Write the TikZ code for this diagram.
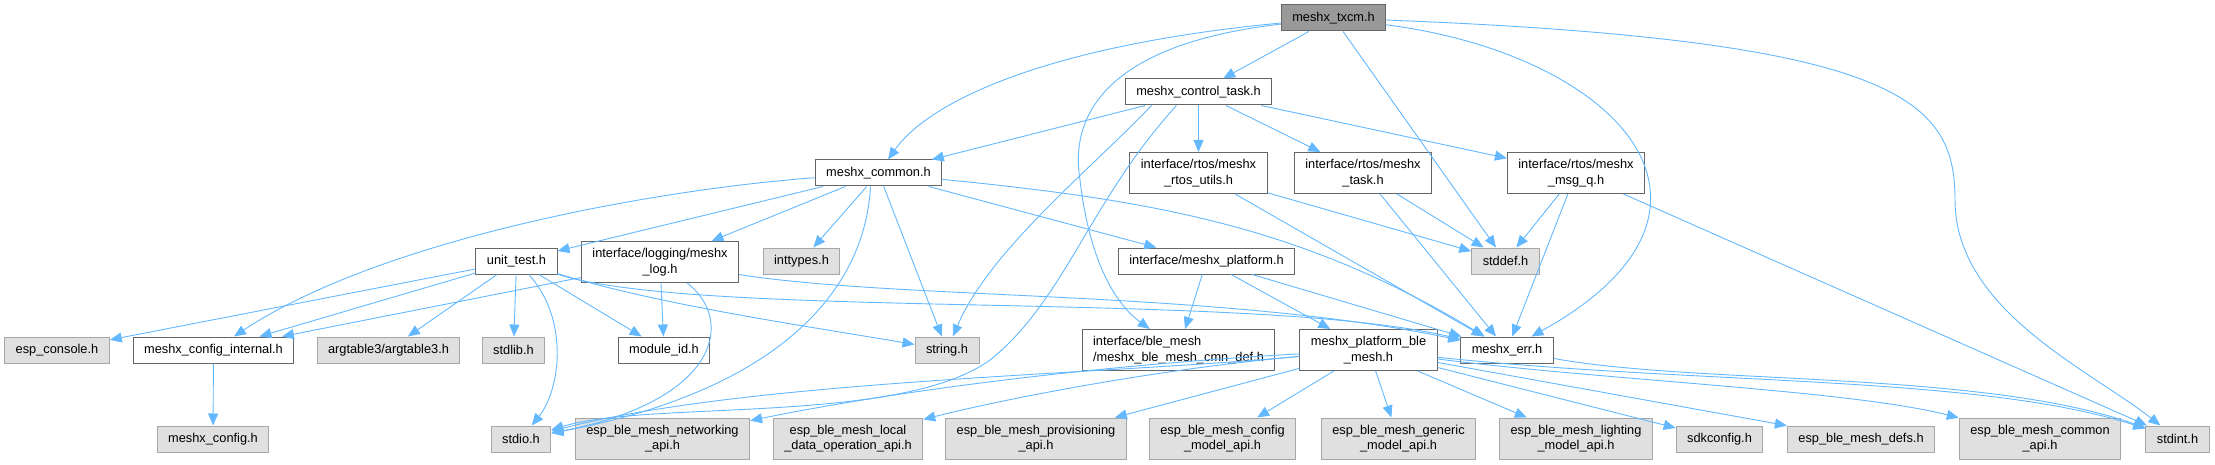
\documentclass[tikz,border=0pt]{standalone}
\usepackage{fontspec}
\setmainfont{Liberation Sans}
\usetikzlibrary{arrows.meta}
\definecolor{edgeblue}{HTML}{63B8FF}
\definecolor{rootgray}{HTML}{999999}
\definecolor{sysgray}{HTML}{E0E0E0}

\begin{document}
\begin{tikzpicture}[
    x=1pt, y=-1pt,
    file/.style={draw=black!60, fill=white, line width=1pt, align=center, inner xsep=11pt, inner ysep=4pt, minimum height=26pt, font=\fontsize{12.8}{15.5}\selectfont},
    sysfile/.style={file, draw=black!35, fill=sysgray},
    rootfile/.style={file, fill=rootgray},
    tall/.style={minimum height=41pt},
    dep/.style={-{Triangle[length=12pt,width=10pt]}, draw=edgeblue, line width=0.9pt}
]
\useasboundingbox (0,0) rectangle (2215,465);

% Nodes
\node[rootfile] (txcm) at (1333.5,18) {meshx\_txcm.h};
\node[file] (ctask) at (1198.5,92) {meshx\_control\_task.h};
\node[file] (common) at (878.5,173) {meshx\_common.h};
\node[file, tall] (rtutils) at (1198.5,173) {interface/rtos/meshx\\\_rtos\_utils.h};
\node[file, tall] (rttask) at (1363,173) {interface/rtos/meshx\\\_task.h};
\node[file, tall] (msgq) at (1576,173) {interface/rtos/meshx\\\_msg\_q.h};
\node[file] (unittest) at (516.5,261) {unit\_test.h};
\node[file, tall] (log) at (660,262) {interface/logging/meshx\\\_log.h};
\node[sysfile] (inttypes) at (801.5,261) {inttypes.h};
\node[file] (platform) at (1206.5,261) {interface/meshx\_platform.h};
\node[sysfile] (stddef) at (1505.5,261) {stddef.h};
\node[sysfile] (console) at (57,350) {esp\_console.h};
\node[file] (cfgint) at (213.5,350) {meshx\_config\_internal.h};
\node[sysfile] (argtable) at (388.5,350) {argtable3/argtable3.h};
\node[sysfile] (stdlib) at (513.5,350) {stdlib.h};
\node[file] (moduleid) at (664,350) {module\_id.h};
\node[sysfile] (string) at (947,350) {string.h};
\node[file, tall, align=left] (cmndef) at (1178.5,350) {interface/ble\_mesh\\/meshx\_ble\_mesh\_cmn\_def.h};
\node[file, tall] (blemesh) at (1368.5,350) {meshx\_platform\_ble\\\_mesh.h};
\node[file] (err) at (1507,350) {meshx\_err.h};
\node[sysfile] (config) at (213,439) {meshx\_config.h};
\node[sysfile] (stdio) at (521,439) {stdio.h};
\node[sysfile, tall] (netapi) at (662.5,438.5) {esp\_ble\_mesh\_networking\\\_api.h};
\node[sysfile, tall] (localapi) at (848,438.5) {esp\_ble\_mesh\_local\\\_data\_operation\_api.h};
\node[sysfile, tall] (provapi) at (1036,438.5) {esp\_ble\_mesh\_provisioning\\\_api.h};
\node[sysfile, tall] (cfgapi) at (1222.5,438.5) {esp\_ble\_mesh\_config\\\_model\_api.h};
\node[sysfile, tall] (genapi) at (1398.5,438.5) {esp\_ble\_mesh\_generic\\\_model\_api.h};
\node[sysfile, tall] (lightapi) at (1576,438.5) {esp\_ble\_mesh\_lighting\\\_model\_api.h};
\node[sysfile] (sdkconfig) at (1719.5,439) {sdkconfig.h};
\node[sysfile] (defs) at (1861,439) {esp\_ble\_mesh\_defs.h};
\node[sysfile, tall] (commonapi) at (2040,438.5) {esp\_ble\_mesh\_common\\\_api.h};
\node[sysfile] (stdint) at (2177.5,439) {stdint.h};

% Arrows
\draw[dep] (txcm) .. controls (1050,45) and (930,100) .. (common);
\draw[dep] (txcm) -- (ctask);
\draw[dep] (txcm) .. controls (1100,45) and (1070,120) .. (1080,180) .. controls (1088,250) and (1110,300) .. (cmndef);
\draw[dep] (txcm) -- (stddef);
\draw[dep] (txcm) .. controls (1620,55) and (1760,210) .. (err);
\draw[dep] (txcm) .. controls (1900,40) and (1955,100) .. (1955,200) .. controls (1955,310) and (2090,370) .. (stdint);

\draw[dep] (ctask) -- (common);
\draw[dep] (ctask) -- (rtutils);
\draw[dep] (ctask) -- (rttask);
\draw[dep] (ctask) -- (msgq);
\draw[dep] ([xshift=-47pt]ctask.south) .. controls (1090,170) and (990,250) .. (string);
\draw[dep] ([xshift=-22pt]ctask.south) .. controls (1090,200) and (1065,300) .. (990,360) .. controls (900,425) and (650,400) .. (stdio);

\draw[dep] (common) .. controls (650,190) and (380,240) .. (cfgint);
\draw[dep] (common) -- (unittest);
\draw[dep] (common) -- (log);
\draw[dep] (common) -- (inttypes);
\draw[dep] ([xshift=-8pt]common.south) .. controls (865,290) and (780,390) .. (stdio);
\draw[dep] (common) -- (string);
\draw[dep] (common) -- (platform);
\draw[dep] (common) .. controls (1150,200) and (1300,225) .. (err);

\draw[dep] (unittest) -- (console);
\draw[dep] (unittest) -- (cfgint);
\draw[dep] (unittest) -- (argtable);
\draw[dep] (unittest) -- (stdlib);
\draw[dep] (unittest) .. controls (570,320) and (560,390) .. (stdio);
\draw[dep] (unittest) -- (moduleid);
\draw[dep] (unittest) .. controls (660,305) and (800,325) .. (string);
\draw[dep] (unittest) .. controls (700,320) and (1250,290) .. (err);

\draw[dep] (log) -- (cfgint);
\draw[dep] (log) -- (moduleid);
\draw[dep] (log) .. controls (735,320) and (720,400) .. (stdio);
\draw[dep] (log) .. controls (900,300) and (1220,290) .. (err);

\draw[dep] (platform) -- (cmndef);
\draw[dep] (platform) -- (blemesh);
\draw[dep] (platform) -- (err);

\draw[dep] (rtutils) -- (stddef);
\draw[dep] (rtutils) -- (err);
\draw[dep] (rttask) -- (stddef);
\draw[dep] (rttask) -- (err);
\draw[dep] (msgq) -- (stddef);
\draw[dep] (msgq) -- (err);
\draw[dep] (msgq) -- (stdint);

\draw[dep] (blemesh) .. controls (1100,375) and (750,380) .. (stdio);
\draw[dep] (blemesh) .. controls (1100,365) and (900,390) .. (netapi);
\draw[dep] (blemesh) .. controls (1150,370) and (1000,400) .. (localapi);
\draw[dep] (blemesh) -- (provapi);
\draw[dep] (blemesh) -- (cfgapi);
\draw[dep] (blemesh) -- (genapi);
\draw[dep] (blemesh) -- (lightapi);
\draw[dep] (blemesh) -- (sdkconfig);
\draw[dep] (blemesh) -- (defs);
\draw[dep] (blemesh) .. controls (1600,380) and (1850,390) .. (commonapi);
\draw[dep] (blemesh) .. controls (1700,385) and (1980,375) .. (stdint);
\draw[dep] (err) .. controls (1700,385) and (1980,370) .. (stdint);

\draw[dep] (cfgint) -- (config);

\end{tikzpicture}
\end{document}
